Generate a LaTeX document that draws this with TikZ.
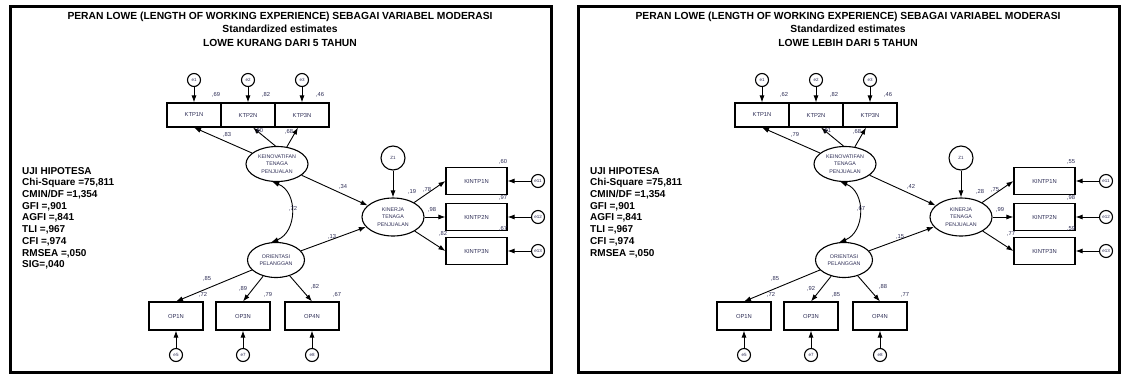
\documentclass[tikz,border=0pt]{standalone}
\usepackage{fontspec}
\setmainfont{Liberation Sans}
\usetikzlibrary{arrows.meta,calc,shapes.geometric}
\definecolor{lab}{RGB}{45,45,85}
\newcommand\drawpanel[4]{%
\begin{scope}[xshift=#2]
 \draw[panelframe] (10,6) rectangle (551,372);
 \node[ttl] (#1title) at (280,29) {PERAN LOWE (LENGTH OF WORKING EXPERIENCE) SEBAGAI VARIABEL MODERASI\\Standardized estimates\\#3};
 \node[stats,anchor=north west] (#1stats) at (22,167) {#4};
 % KTP
 \node[err] (#1e1) at (194,80) {e1};
 \node[err] (#1e2) at (248,80) {e2};
 \node[err] (#1e3) at (302,80) {e3};
 \node[obs] (#1k1) at (194,115) {KTP1N};
 \node[obs] (#1k2) at (248,115) {KTP2N};
 \node[obs] (#1k3) at (302,115) {KTP3N};
 \node[lat,minimum width=62pt,minimum height=35pt] (#1kein) at (277,164) {KEINOVATIFAN\\TENAGA\\PENJUALAN};
 \node[err,minimum size=24pt] (#1z) at (393,158) {Z1};
 \node[lat,minimum width=62pt,minimum height=38pt] (#1kin) at (393,217) {KINERJA\\TENAGA\\PENJUALAN};
 \node[obs,minimum width=61pt,minimum height=27pt] (#1n1) at (476.5,181) {KINTP1N};
 \node[obs,minimum width=61pt,minimum height=27pt] (#1n2) at (476.5,217) {KINTP2N};
 \node[obs,minimum width=61pt,minimum height=27pt] (#1n3) at (476.5,251) {KINTP3N};
 \node[err] (#1e11) at (538,181) {e11};
 \node[err] (#1e12) at (538,217) {e12};
 \node[err] (#1e13) at (538,251) {e13};
 \node[lat,minimum width=57pt,minimum height=35pt] (#1ori) at (276,260) {ORIENTASI\\PELANGGAN};
 \node[obs,minimum height=28pt] (#1o1) at (176,316) {OP1N};
 \node[obs,minimum height=28pt] (#1o3) at (243,316) {OP3N};
 \node[obs,minimum height=28pt] (#1o4) at (312,316) {OP4N};
 \node[err] (#1e5) at (176,355) {e5};
 \node[err] (#1e7) at (243,355) {e7};
 \node[err] (#1e8) at (312,355) {e8};
 % connectors
 \foreach \a/\b in {e1/k1,e2/k2,e3/k3}{\draw[arr] (#1\a) -- (#1\b);}
 \draw[arr] (#1kein) -- (#1k1.south);
 \draw[arr] (#1kein.95) -- ($(#1k2.south)+(5,0)$);
 \draw[arr] (#1kein) -- ($(#1k3.south)+(-4,0)$);
 \draw[arr] (#1kein) -- (#1kin);
 \draw[arr] (#1ori) -- (#1kin);
 \draw[dbl] (#1kein.255) .. controls ($(#1kein.255)+(26,10)$) and ($(#1ori.105)+(26,-10)$) .. (#1ori.105);
 \draw[arr] (#1z) -- (#1kin);
 \draw[arr] (#1kin) -- (#1n1.west);
 \draw[arr] (#1kin) -- (#1n2.west);
 \draw[arr] (#1kin) -- (#1n3.west);
 \foreach \a/\b in {e11/n1,e12/n2,e13/n3}{\draw[arr] (#1\a) -- (#1\b.east);}
 \foreach \b in {o1,o3,o4}{\draw[arr] (#1ori) -- (#1\b.north);}
 \foreach \a/\b in {e5/o1,e7/o3,e8/o4}{\draw[arr] (#1\a) -- (#1\b.south);}
 % values
 \node[val] (#1va) at (216,95) {\vKa};
 \node[val] (#1vb) at (266,95) {\vKb};
 \node[val] (#1vc) at (320,95) {\vKc};
 \node[val] (#1vd) at (227,135) {\lKa};
 \node[val] (#1ve) at (259,131) {\lKb};
 \node[val] (#1vf) at (289,132) {\lKc};
 \node[val] (#1vg) at (343,187) {\pA};
 \node[val] (#1vh) at (293,209) {\pC};
 \node[val] (#1vi) at (332,237) {\pB};
 \node[val] (#1vj) at (412,192) {\rKin};
 \node[val] (#1vk) at (427,190) {\lNa};
 \node[val] (#1vl) at (503,162) {\vNa};
 \node[val] (#1vm) at (432,210) {\lNb};
 \node[val] (#1vn) at (503,198) {\vNb};
 \node[val] (#1vo) at (443,234) {\lNc};
 \node[val] (#1vp) at (503,229) {\vNc};
 \node[val] (#1vq) at (207,279) {\lOa};
 \node[val] (#1vr) at (203,295) {\vOa};
 \node[val] (#1vs) at (243,289) {\lOb};
 \node[val] (#1vt) at (268,295) {\vOb};
 \node[val] (#1vu) at (315,287) {\lOc};
 \node[val] (#1vv) at (337,295) {\vOc};
\end{scope}}
\begin{document}
\begin{tikzpicture}[x=1pt,y=-1pt,
  obs/.style={draw,line width=1.1pt,minimum width=54pt,minimum height=24pt,inner sep=0pt,font=\fontsize{5.8}{6}\selectfont,text=lab},
  lat/.style={draw,ellipse,line width=1.1pt,inner sep=0pt,align=center,font=\fontsize{5.3}{7.5}\selectfont,text=lab},
  err/.style={draw,circle,line width=1.1pt,minimum size=13pt,inner sep=0pt,font=\fontsize{4.5}{5}\selectfont,text=lab},
  arr/.style={line width=0.9pt,-{Latex[length=7pt,width=5pt]}},
  dbl/.style={line width=0.9pt,{Latex[length=7pt,width=5pt]}-{Latex[length=7pt,width=5pt]}},
  val/.style={font=\fontsize{5.8}{6}\selectfont,text=lab,inner sep=0pt},
  ttl/.style={font=\fontsize{10.3}{13.5}\selectfont\bfseries,align=center,inner sep=0pt},
  stats/.style={font=\fontsize{10}{11.7}\selectfont\bfseries,align=left,inner sep=0pt},
  panelframe/.style={line width=3pt}
]
\useasboundingbox[fill=white] (0,0) rectangle (1123,378);
% left panel values
\def\vKa{,69}\def\vKb{,82}\def\vKc{,46}
\def\lKa{,83}\def\lKb{,90}\def\lKc{,68}
\def\pA{,34}\def\pC{,72}\def\pB{,13}
\def\rKin{,19}
\def\lNa{,78}\def\lNb{,98}\def\lNc{,82}
\def\vNa{,60}\def\vNb{,97}\def\vNc{,67}
\def\lOa{,85}\def\lOb{,89}\def\lOc{,82}
\def\vOa{,72}\def\vOb{,79}\def\vOc{,67}
\drawpanel{L}{0pt}{LOWE KURANG DARI 5 TAHUN}{UJI HIPOTESA\\Chi-Square =75,811\\CMIN/DF =1,354\\GFI =,901\\AGFI =,841\\TLI =,967\\CFI =,974\\RMSEA =,050\\SIG=,040}
% right panel values
\def\vKa{,62}\def\vKb{,82}\def\vKc{,46}
\def\lKa{,79}\def\lKb{,91}\def\lKc{,68}
\def\pA{,42}\def\pC{,67}\def\pB{,15}
\def\rKin{,28}
\def\lNa{,75}\def\lNb{,99}\def\lNc{,77}
\def\vNa{,55}\def\vNb{,98}\def\vNc{,59}
\def\lOa{,85}\def\lOb{,92}\def\lOc{,88}
\def\vOa{,72}\def\vOb{,85}\def\vOc{,77}
\drawpanel{R}{568pt}{LOWE LEBIH DARI 5 TAHUN}{UJI HIPOTESA\\Chi-Square =75,811\\CMIN/DF =1,354\\GFI =,901\\AGFI =,841\\TLI =,967\\CFI =,974\\RMSEA =,050}
\end{tikzpicture}
\end{document}
